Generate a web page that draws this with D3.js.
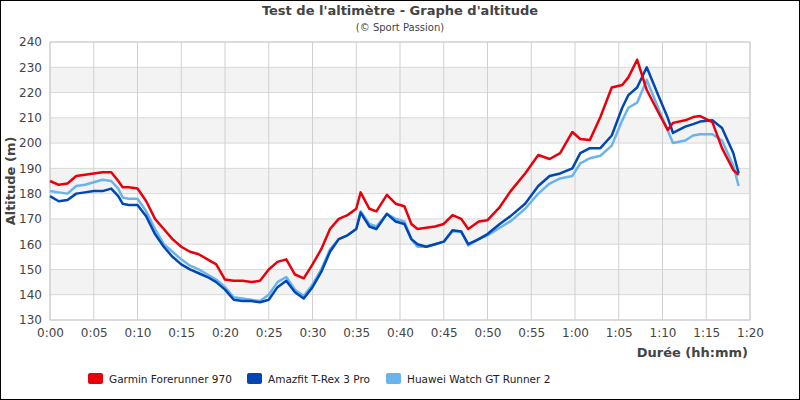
<!DOCTYPE html><html><head><meta charset="utf-8"><script src="https://cdn.jsdelivr.net/npm/d3@7"></script>
<style>body{margin:0}svg{font-family:"DejaVu Sans";}</style></head><body><svg id="c" width="800" height="400"></svg>
<script>
const times =    [0,1,2,3,4,5,6,7,7.8,8.3,9,10,11,12,13,14,15,16,17,18,19,20,21,22,23,24,25,26,27,28,29,30,31,32,33,34,35,35.5,36.5,37.3,38.5,39.5,40.5,41.3,42,43,44,45,46,47,47.8,49,50,51.4,52.6,54.3,55.8,57.1,58.3,59.7,60.6,61.7,62.9,64.2,65.4,66.1,67.1,68.2,69.5,70.6,71.2,72.6,73.5,74.3,75.7,76.8,78.1,78.7];
const garmin =   [185,183.5,184,187,187.5,188,188.5,188.5,185,182.5,182.5,182,177,170,166,162,159,157,156,154,152,146,145.5,145.5,145,145.5,150,153,154,148,146.5,152,158,166,170,171.5,174,180.5,174,173,179.5,176,175,168,166,166.5,167,168,171.5,170,166,169,169.5,174.7,180.8,188,195.3,193.7,196,204.4,201.6,201.2,210.3,222,223,226,233,221,212.3,205.2,208,209,210.3,210.7,208.3,198,189.3,187.4];
const amazfit =  [179,177,177.5,180,180.5,181,181,182,179,176,175.5,175.5,171,164,159,155,152,150,148.5,147,145,142,138,137.5,137.5,137,138,143,145.5,141,138.5,143,149,157,162,163.5,166,172.5,167,166,172,169,168,162,160,159,160,161,165.5,165,160,162,164,168,171,176,183,187,188,190,196,198,198,203,214,219,222,230,219,210,204,206.5,207.5,208.5,209,206,196,188,186.5];
const huawei =   [181,180.5,180,183,183.5,184.5,185.5,185,182,178.5,178,178,173,166,160,157,154,151.5,150,148,146,143,139,138.5,138,137.5,140,145,147,142,139.5,144,150,158,162,163.5,166,173,168,167,172,170,169,162,159,159,160,161,165,165,159.5,162,163.5,166.5,169,174,180,184,186,187,192,194,195,199,209,214,216,225,214,205,200,201,203,203.5,203.5,201,191,183,180.5];
const yTicks = [130,140,150,160,170,180,190,200,210,220,230,240];
const xTicks = [0,5,10,15,20,25,30,35,40,45,50,55,60,65,70,75,80];
const seriesNames = ["Garmin Forerunner 970","Amazfit T-Rex 3 Pro","Huawei Watch GT Runner 2"];
const colors = ["#e8000b","#0047b3","#6ab4ee"];

const svg = d3.select("#c");
svg.append("rect").attr("x",0.5).attr("y",0.5).attr("width",799).attr("height",399).attr("fill","#fff").attr("stroke","#000");
const L=50,R=750,T=42,B=320;
const x=d3.scaleLinear().domain([0,80]).range([L,R]);
const y=d3.scaleLinear().domain([130,240]).range([B,T]);
for(let i=0;i<yTicks.length-1;i++){ if(i%2===1) svg.append("rect").attr("x",L).attr("width",R-L).attr("y",y(yTicks[i+1])).attr("height",y(yTicks[i])-y(yTicks[i+1])).attr("fill","#f3f3f3"); }
const g=svg.append("g");
yTicks.forEach(t=>g.append("line").attr("x1",L).attr("x2",R).attr("y1",y(t)).attr("y2",y(t)).attr("stroke","#d8d8d8"));
xTicks.forEach(t=>g.append("line").attr("x1",x(t)).attr("x2",x(t)).attr("y1",T).attr("y2",B).attr("stroke","#d0d0d0"));
svg.append("rect").attr("x",L).attr("y",T).attr("width",R-L).attr("height",B-T).attr("fill","none").attr("stroke","#ccc");
const fmt=m=>Math.floor(m/60)+":"+String(m%60).padStart(2,"0");
const ax=svg.append("g").attr("transform",`translate(0,${B})`).call(d3.axisBottom(x).tickValues(xTicks).tickFormat(fmt).tickSize(0).tickPadding(8));
const ay=svg.append("g").attr("transform",`translate(${L},0)`).call(d3.axisLeft(y).tickValues(yTicks).tickSize(0).tickPadding(8));
[ax,ay].forEach(a=>{a.select(".domain").remove();a.selectAll("text").attr("font-size",12).attr("fill","#444").attr("font-family","DejaVu Sans");});
const line=d3.line().x((d,i)=>x(times[i])).y(d=>y(d)).curve(d3.curveLinear);
[huawei,amazfit,garmin].forEach((s,k)=>{svg.append("path").attr("d",line(s)).attr("fill","none").attr("stroke",colors[2-k]).attr("stroke-width",2.5).attr("stroke-linejoin","round");});
svg.append("text").attr("x",400).attr("y",15).attr("text-anchor","middle").attr("font-size",13).attr("font-weight","bold").attr("fill","#444").text("Test de l'altimètre - Graphe d'altitude");
svg.append("text").attr("x",400).attr("y",31).attr("text-anchor","middle").attr("font-size",10).attr("fill","#444").text("(© Sport Passion)");
svg.append("text").attr("transform","translate(15,181) rotate(-90)").attr("text-anchor","middle").attr("font-size",13).attr("font-weight","bold").attr("fill","#444").text("Altitude (m)");
svg.append("text").attr("x",748).attr("y",357).attr("text-anchor","end").attr("font-size",13).attr("font-weight","bold").attr("fill","#444").text("Durée (hh:mm)");
const lx=[88,247,386];
seriesNames.forEach((n,i)=>{svg.append("rect").attr("x",lx[i]).attr("y",373).attr("width",15).attr("height",11).attr("rx",2).attr("fill",colors[i]);
svg.append("text").attr("x",lx[i]+21).attr("y",383).attr("font-size",10.5).attr("fill","#222").text(n);});
</script></body></html>
